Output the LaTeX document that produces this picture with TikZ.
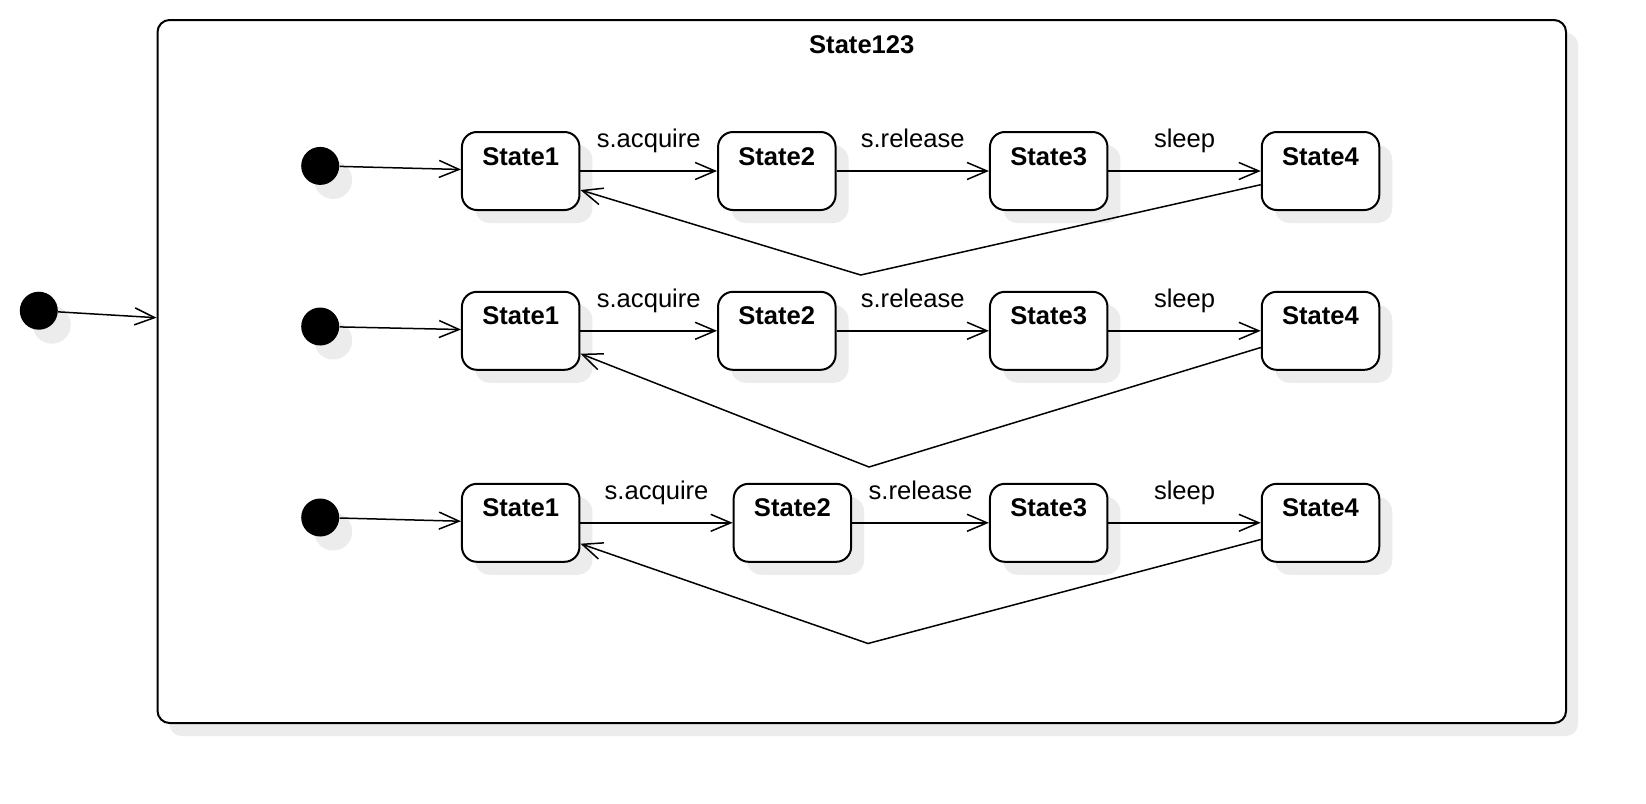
\documentclass[tikz,border=0pt]{standalone}
\usepackage{fontspec}
\setmainfont{Liberation Sans}
\usetikzlibrary{arrows.meta,shadows,calc}
\definecolor{shadowgray}{RGB}{236,236,236}
\tikzset{>={Straight Barb[length=10pt,width=8.5pt]}}
\tikzset{
    compound/.style={draw, line width=1pt, rounded corners=6pt, fill=white,
        minimum width=704.25pt, minimum height=351.5pt, inner sep=0pt,
        general shadow={fill=shadowgray, shadow xshift=6pt, shadow yshift=-6.5pt}},
    state/.style={draw, line width=1pt, rounded corners=7.5pt, fill=white,
        minimum width=58.75pt, minimum height=39pt, text height=9.5pt, text depth=15.5pt,
        font=\fontsize{12.8}{15}\selectfont\bfseries,
        general shadow={fill=shadowgray, shadow xshift=6.5pt, shadow yshift=-6.5pt}},
    startdot/.style={circle, fill=black, minimum size=19pt, inner sep=0pt,
        general shadow={fill=shadowgray, shadow xshift=6.5pt, shadow yshift=-7pt}},
    trans/.style={->, line width=0.75pt},
    evt/.style={font=\fontsize{12.8}{15}\selectfont, anchor=base, yshift=11.65pt, inner sep=0pt},
}

\begin{document}
\begin{tikzpicture}[x=0.5pt,y=-0.5pt]
    \useasboundingbox[fill=white] (0,0) rectangle (1646,804);
    % the composite state
    \node[compound] (outer) at (861.8,371.5) {};
    \node[font=\fontsize{12.8}{15}\selectfont\bfseries, anchor=base, inner sep=0pt] (title) at (861.8,53) {State123};
    \node[startdot] (init0) at (38.8,310.7) {};
    \draw[trans] (init0) -- ($(outer.west |- init0)+(0,7)$);
    % first row
    \node[startdot] (init1) at (320.2,165.9) {};
    \node[state] (st11) at (520.7,171) {State1};
    \node[state] (st12) at (776.8,171) {State2};
    \node[state] (st13) at (1048.7,171) {State3};
    \node[state] (st14) at (1320.5,171) {State4};
    \coordinate (bend1) at (860.7,275);
    \draw[trans] (init1) -- (st11);
    \draw[trans] (st11) -- node[evt] {s.acquire} (st12);
    \draw[trans] (st12) -- node[evt] {s.release} (st13);
    \draw[trans] (st13) -- node[evt] {sleep} (st14);
    \draw[trans] ($(st14.west)+(0,13.7)$) -- (bend1) -- ($(st11.east)+(0,19)$);
    % second row
    \node[startdot] (init2) at (320.2,326.5) {};
    \node[state] (st21) at (520.7,330.8) {State1};
    \node[state] (st22) at (776.8,330.8) {State2};
    \node[state] (st23) at (1048.7,330.8) {State3};
    \node[state] (st24) at (1320.5,330.8) {State4};
    \coordinate (bend2) at (869,467);
    \draw[trans] (init2) -- (st21);
    \draw[trans] (st21) -- node[evt] {s.acquire} (st22);
    \draw[trans] (st22) -- node[evt] {s.release} (st23);
    \draw[trans] (st23) -- node[evt] {sleep} (st24);
    \draw[trans] ($(st24.west)+(0,16.7)$) -- (bend2) -- ($(st21.east)+(0,22.9)$);
    % third row
    \node[startdot] (init3) at (320.2,517.5) {};
    \node[state] (st31) at (520.7,522.8) {State1};
    \node[state] (st32) at (792.4,522.8) {State2};
    \node[state] (st33) at (1048.7,522.8) {State3};
    \node[state] (st34) at (1320.5,522.8) {State4};
    \coordinate (bend3) at (868,643.5);
    \draw[trans] (init3) -- (st31);
    \draw[trans] (st31) -- node[evt] {s.acquire} (st32);
    \draw[trans] (st32) -- node[evt] {s.release} (st33);
    \draw[trans] (st33) -- node[evt] {sleep} (st34);
    \draw[trans] ($(st34.west)+(0,16.7)$) -- (bend3) -- ($(st31.east)+(0,20.9)$);
\end{tikzpicture}
\end{document}
